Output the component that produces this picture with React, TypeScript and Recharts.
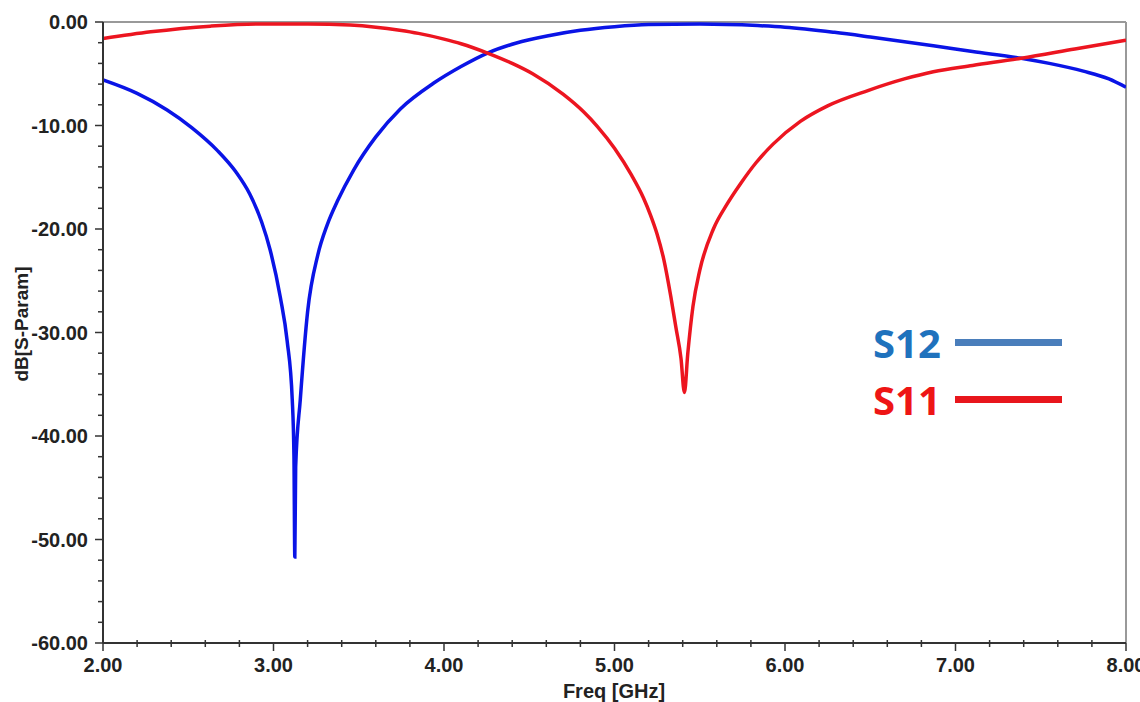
import React from "react";
import { LineChart, Line, XAxis, YAxis, ReferenceLine, Legend } from "recharts";

// S12 (blue) – sharp null near 3.12 GHz
const s12Freq = [
  2.0, 2.2, 2.376, 2.52, 2.67, 2.78, 2.86, 2.93, 2.98, 3.04, 3.08, 3.11, 3.12, 3.125,
  3.13, 3.157, 3.2, 3.26, 3.315, 3.375, 3.47, 3.6, 3.744, 3.94, 4.1, 4.255, 4.42, 4.62, 4.8,
  5.0, 5.2, 5.5, 5.84, 6.0, 6.29, 6.5, 6.87, 7.1, 7.385, 7.55, 7.75, 7.9, 8.0,
];
const s12Db = [
  -5.6, -6.9, -8.5, -10.2, -12.4, -14.5, -16.6, -19.3, -22.0, -26.6, -30.8, -36.5, -42, -51.7,
  -43, -36.5, -28, -22.5, -19.6, -17.3, -14.3, -11.1, -8.4, -5.9, -4.3, -3.0, -2.05, -1.3, -0.8,
  -0.45, -0.25, -0.2, -0.35, -0.5, -1.0, -1.45, -2.3, -2.85, -3.5, -4.0, -4.75, -5.5, -6.3,
];

// S11 (red) – null near 5.41 GHz
const s11Freq = [
  2.0, 2.28, 2.63, 2.9, 3.2, 3.45, 3.6, 3.74, 3.85, 4.0, 4.1, 4.255, 4.4, 4.52, 4.7, 4.82,
  4.9, 5.0, 5.1, 5.17, 5.21, 5.25, 5.29, 5.33, 5.36, 5.39, 5.41, 5.43, 5.46, 5.5, 5.58, 5.66,
  5.74, 5.83, 5.93, 6.09, 6.25, 6.49, 6.7, 6.87, 7.1, 7.385, 7.7, 8.0,
];
const s11Db = [
  -1.6, -0.95, -0.4, -0.2, -0.2, -0.3, -0.5, -0.8, -1.1, -1.65, -2.1, -3.0, -4.0, -5.0, -7.0, -8.7,
  -10.1, -12.2, -14.8, -17.0, -18.6, -20.5, -23.0, -26.5, -29.5, -32.5, -35.8, -32.0, -27.5, -24.0, -20.0, -17.6,
  -15.6, -13.6, -11.8, -9.6, -8.1, -6.6, -5.5, -4.8, -4.2, -3.5, -2.6, -1.75,
];

const xTicks = [
  2.0, 2.2, 2.4, 2.6, 2.8, 3.0, 3.2, 3.4, 3.6, 3.8, 4.0, 4.2, 4.4, 4.6, 4.8, 5.0, 5.2, 5.4,
  5.6, 5.8, 6.0, 6.2, 6.4, 6.6, 6.8, 7.0, 7.2, 7.4, 7.6, 7.8, 8.0,
];
const yTicks = [
  0, -2, -4, -6, -8, -10, -12, -14, -16, -18, -20, -22, -24, -26, -28, -30, -32, -34, -36,
  -38, -40, -42, -44, -46, -48, -50, -52, -54, -56, -58, -60,
];

const s12Data = s12Freq.map((f, i) => ({ f, db: s12Db[i] }));
const s11Data = s11Freq.map((f, i) => ({ f, db: s11Db[i] }));

const FONT = "'Liberation Sans', Arial, sans-serif";
const isMajorX = (v: number) => Math.abs(v - Math.round(v)) < 1e-6;
const isMajorY = (v: number) => v % 10 === 0;

function XTick(props: any) {
  const { x, y, payload } = props;
  const v = payload.value as number;
  const major = isMajorX(v);
  return (
    <g>
      <line x1={x} x2={x} y1={major ? y : y - 3} y2={y + (major ? 8 : 4)} stroke="#333" strokeWidth={1.5} />
      {major && (
        <text x={x} y={y + 29} textAnchor="middle" fontFamily={FONT} fontWeight="bold" fontSize={20} fill="#222">
          {v.toFixed(2)}
        </text>
      )}
    </g>
  );
}

function YTick(props: any) {
  const { x, y, payload } = props;
  const v = payload.value as number;
  const major = isMajorY(v);
  return (
    <g>
      <line x1={x - (major ? 8 : 5)} x2={x} y1={y} y2={y} stroke="#333" strokeWidth={1.5} />
      {major && (
        <text x={x - 15} y={y + 7} textAnchor="end" fontFamily={FONT} fontWeight="bold" fontSize={20} fill="#222">
          {v.toFixed(2)}
        </text>
      )}
    </g>
  );
}

function LegendBox() {
  const row = (label: string, textColor: string, lineColor: string) => (
    <div style={{ display: "flex", alignItems: "center", height: 57 }}>
      <span
        style={{
          fontFamily: "'Open Sans', 'Noto Sans', sans-serif",
          fontWeight: 700,
          fontSize: 40,
          color: textColor,
          width: 82,
          lineHeight: 1,
        }}
      >
        {label}
      </span>
      <span style={{ display: "inline-block", width: 107, height: 7, background: lineColor }} />
    </div>
  );
  return (
    <div>
      {row("S12", "#1f72bd", "#4a7ebb")}
      {row("S11", "#ee1515", "#e8161c")}
    </div>
  );
}

export default function App() {
  return (
    <div style={{ position: "absolute", left: 0, top: 0, width: 1140, height: 702, background: "#fff" }}>
      <LineChart width={1140} height={702} margin={{ top: 22, right: 14, bottom: 0, left: 0 }}>
        <XAxis
          type="number"
          dataKey="f"
          domain={[2, 8]}
          ticks={xTicks}
          allowDataOverflow
          interval={0}
          tickSize={0}
          tickMargin={0}
          tickLine={false}
          tick={<XTick />}
          axisLine={{ stroke: "#333", strokeWidth: 2 }}
          height={59}
          label={{
            content: () => (
              <text x={614} y={698} textAnchor="middle" fontFamily={FONT} fontWeight="bold" fontSize={20} fill="#222">
                Freq [GHz]
              </text>
            ),
          }}
        />
        <YAxis
          type="number"
          dataKey="db"
          domain={[-60, 0]}
          ticks={yTicks}
          allowDataOverflow
          interval={0}
          width={103}
          tickSize={0}
          tickMargin={0}
          tickLine={false}
          tick={<YTick />}
          axisLine={{ stroke: "#333", strokeWidth: 2 }}
          label={{
            content: () => (
              <text
                x={28}
                y={324}
                transform="rotate(-90 28 324)"
                textAnchor="middle"
                fontFamily={FONT}
                fontWeight="bold"
                fontSize={19}
                fill="#222"
              >
                dB[S-Param]
              </text>
            ),
          }}
        />
        <ReferenceLine y={0} stroke="#999" strokeWidth={2} />
        <ReferenceLine x={8} stroke="#999" strokeWidth={2} />
        <Legend
          layout="horizontal"
          verticalAlign="middle"
          align="center"
          content={<LegendBox />}
          wrapperStyle={{ position: "absolute", left: 873, top: 314, width: 200 }}
        />
        <Line
          data={s12Data}
          dataKey="db"
          type="monotone"
          stroke="#0a14e6"
          strokeWidth={3.5}
          dot={false}
          isAnimationActive={false}
          legendType="none"
        />
        <Line
          data={s11Data}
          dataKey="db"
          type="monotone"
          stroke="#ec1520"
          strokeWidth={3.5}
          dot={false}
          isAnimationActive={false}
          legendType="none"
        />
      </LineChart>
    </div>
  );
}
